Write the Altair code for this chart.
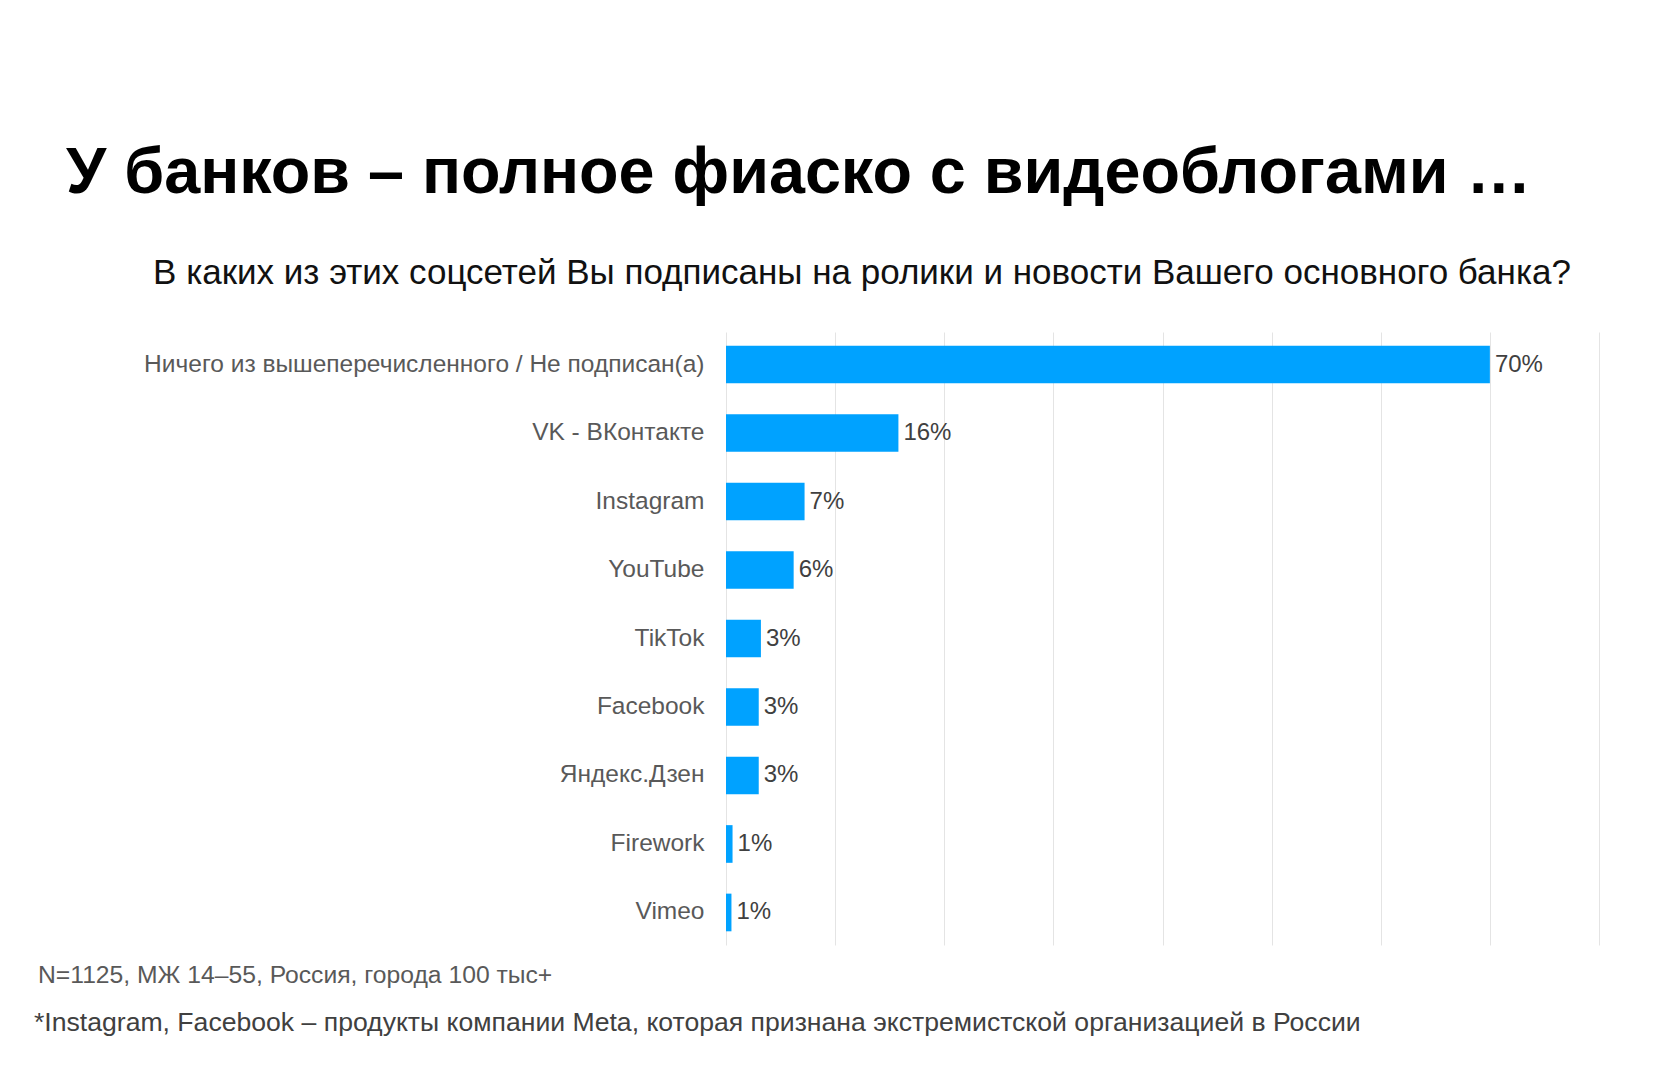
import altair as alt
import pandas as pd

categories = [
    "Ничего из вышеперечисленного / Не подписан(а)",
    "VK - ВКонтакте",
    "Instagram",
    "YouTube",
    "TikTok",
    "Facebook",
    "Яндекс.Дзен",
    "Firework",
    "Vimeo",
]
values = [70.0, 15.8, 7.2, 6.2, 3.2, 3.0, 3.0, 0.6, 0.5]
value_labels = ["70%", "16%", "7%", "6%", "3%", "3%", "3%", "1%", "1%"]
grid_ticks = [0, 10, 20, 30, 40, 50, 60, 70, 80]

title_text = "У банков – полное фиаско с видеоблогами …"
subtitle_text = "В каких из этих соцсетей Вы подписаны на ролики и новости Вашего основного банка?"
note1_text = "N=1125, МЖ 14–55, Россия, города 100 тыс+"
note2_text = "*Instagram, Facebook – продукты компании Meta, которая признана экстремистской организацией в России"

df = pd.DataFrame({"category": categories, "value": values, "label": value_labels})

FONT = "Liberation Sans, Arial, sans-serif"

x_enc = alt.X(
    "value:Q",
    scale=alt.Scale(domain=[0, 80], nice=False, zero=True),
    axis=alt.Axis(
        values=grid_ticks, grid=True, gridColor="#e4e4e4", gridWidth=1,
        labels=False, ticks=False, domain=False, title=None,
    ),
)
y_enc = alt.Y(
    "category:N",
    sort=categories,
    scale=alt.Scale(paddingInner=0.45, paddingOuter=0.2),
    axis=alt.Axis(
        title=None, ticks=False, domain=False, labelFont=FONT,
        labelFontSize=24.5, labelColor="#595959", labelPadding=22,
        labelLimit=800,
    ),
)

base = alt.Chart(df)
bars = base.mark_bar(color="#00A2FF").encode(x=x_enc, y=y_enc)
texts = base.mark_text(
    align="left", baseline="middle", dx=5, font=FONT, fontSize=24, color="#404040"
).encode(x="value:Q", y=alt.Y("category:N", sort=categories), text="label:N")


def annot(txt, x, y, size, color, weight="normal", font=FONT, align="left"):
    return alt.Chart(pd.DataFrame({"t": [txt]})).mark_text(
        align=align, baseline="alphabetic", font=font, fontSize=size,
        color=color, fontWeight=weight,
    ).encode(x=alt.value(x), y=alt.value(y), text="t:N")


title = annot(title_text, -660, -139, 64.7, "#000000", "bold")
subtitle = annot(subtitle_text, 136, -48, 35, "#111111", align="center")
note1 = annot(note1_text, -688, 651, 24.7, "#595959")
note2 = annot(note2_text, -692, 699, 26.6, "#404040")

chart = alt.layer(bars, texts, title, subtitle, note1, note2).properties(
    width=873, height=613,
    autosize=alt.AutoSizeParams(type="none"),
    padding={"left": 718, "top": 324, "right": 70, "bottom": 112},
).configure(background="white").configure_view(stroke=None)

chart.save("out.html", embed_options={"renderer": "svg", "actions": False})
